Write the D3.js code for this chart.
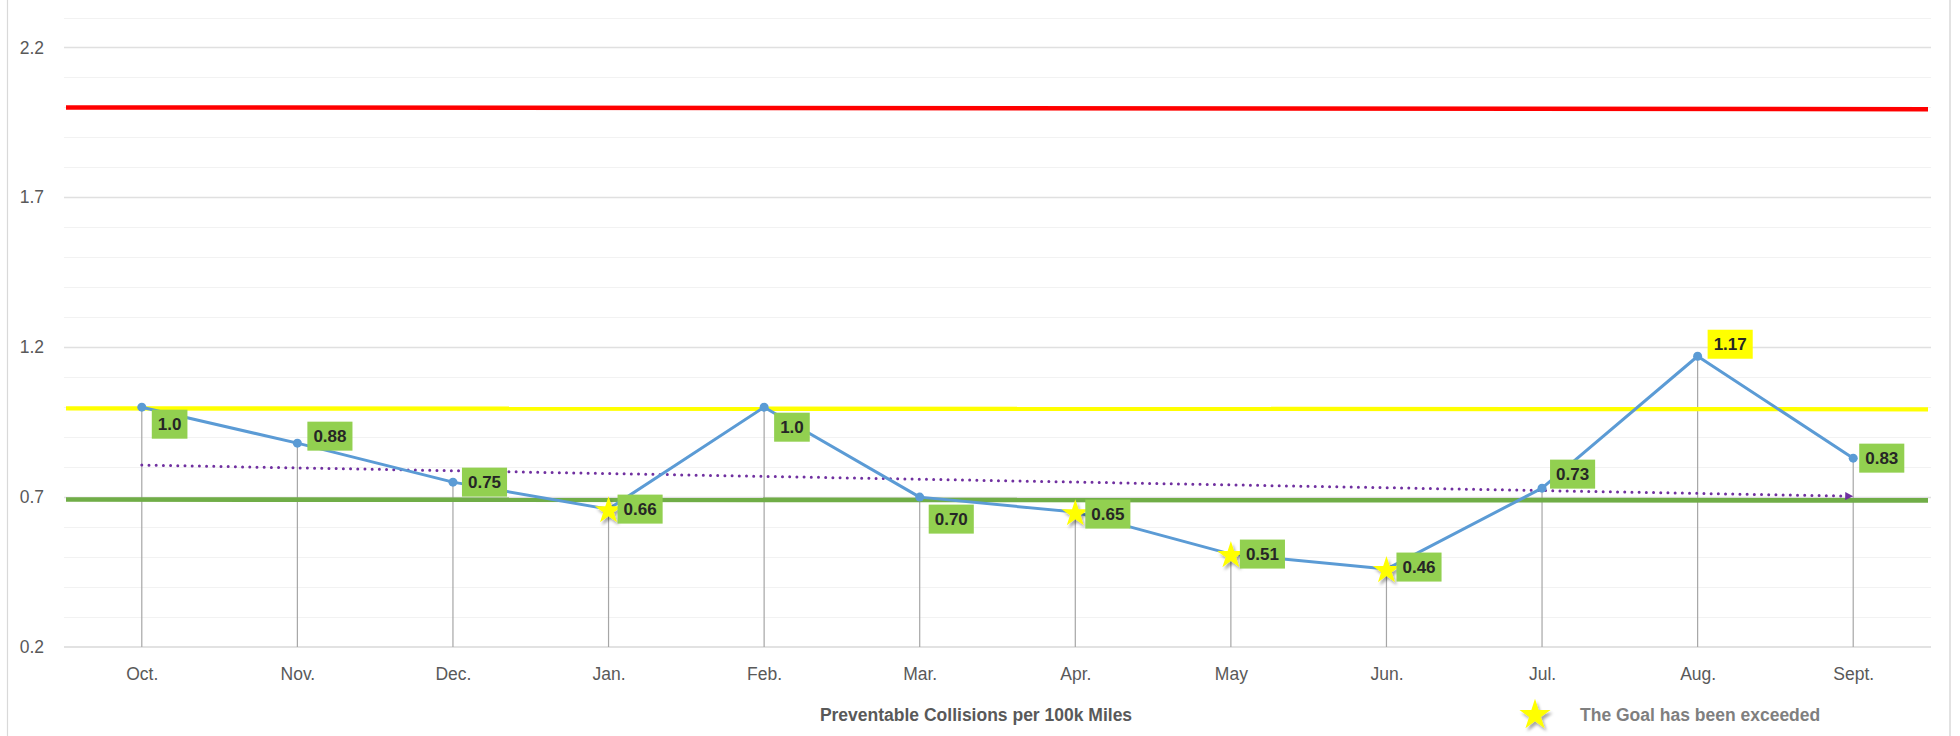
<!DOCTYPE html>
<html>
<head>
<meta charset="utf-8">
<script src="https://cdn.jsdelivr.net/npm/d3@7"></script>
<style>
  html, body { margin: 0; padding: 0; background: #ffffff; }
  svg { display: block; font-family: "Liberation Sans", Arial, sans-serif; }
</style>
</head>
<body>
<svg id="chart" width="1960" height="736"></svg>
<script>
// Monthly preventable collisions per 100k miles
const months = ["Oct.", "Nov.", "Dec.", "Jan.", "Feb.", "Mar.", "Apr.", "May", "Jun.", "Jul.", "Aug.", "Sept."];
const rates = [1.0, 0.88, 0.75, 0.66, 1.0, 0.70, 0.65, 0.51, 0.46, 0.73, 1.17, 0.83];
const labelText = ["1.0", "0.88", "0.75", "0.66", "1.0", "0.70", "0.65", "0.51", "0.46", "0.73", "1.17", "0.83"];
const goalExceeded = ["Jan.", "Apr.", "May", "Jun."];
const highlighted = ["Aug."];

// Reference levels, value at the left end and at the right end
const redLevel = [2.0, 1.994];
const yellowLevel = [0.996, 0.993];
const greenLevel = [0.692, 0.689];
// Trend, value at Oct. and at Sept.
const trendEnds = [0.807, 0.703];

const yTickValues = [0.2, 0.7, 1.2, 1.7, 2.2];
const axisTitle = "Preventable Collisions per 100k Miles";
const legendText = "The Goal has been exceeded";

// Label placement relative to each point: box left offset, box centre offset
const labelOffsets = [
  [10, 17], [10, -7], [9, 0], [9, 0], [10, 20], [9, 22],
  [10, 2], [9, 0], [10, -2], [8, -14], [10, -12], [6, 0]
];

const svg = d3.select("#chart");
const plot = { left: 64, right: 1931, top: 17.5, bottom: 647 };

const x = d3.scalePoint().domain(months).range([plot.left, plot.right]).padding(0.5);
const y = d3.scaleLinear().domain([0.2, 2.3]).range([plot.bottom, plot.top]);

const defs = svg.append("defs");
const shadow = defs.append("filter").attr("id", "starShadow")
  .attr("x", "-50%").attr("y", "-50%").attr("width", "200%").attr("height", "200%");
shadow.append("feDropShadow").attr("dx", 2).attr("dy", 3).attr("stdDeviation", 1.8)
  .attr("flood-color", "#000").attr("flood-opacity", 0.35);
defs.append("marker").attr("id", "trendArrow")
  .attr("viewBox", "0 0 10 10").attr("refX", 10).attr("refY", 5)
  .attr("markerWidth", 10).attr("markerHeight", 8).attr("markerUnits", "userSpaceOnUse")
  .attr("orient", "auto")
  .append("path").attr("d", "M0,0 L10,5 L0,10 Z").attr("fill", "#7030A0");

// Outer frame
svg.append("line").attr("x1", 7.5).attr("x2", 7.5).attr("y1", 0).attr("y2", 736)
  .attr("stroke", "#d9d9d9").attr("stroke-width", 1.2);
svg.append("line").attr("x1", 1950).attr("x2", 1950).attr("y1", 0).attr("y2", 736)
  .attr("stroke", "#d9d9d9").attr("stroke-width", 1.5);

// Minor and major gridlines
const allTicks = y.ticks(21).filter(t => t > 0.25);
const isMajor = t => yTickValues.some(m => Math.abs(m - t) < 1e-6);
svg.append("g").selectAll("line").data(allTicks).join("line")
  .attr("x1", plot.left).attr("x2", plot.right)
  .attr("y1", d => Math.round(y(d)) + 0.5).attr("y2", d => Math.round(y(d)) + 0.5)
  .attr("stroke", d => isMajor(d) ? "#e0e0e0" : "#f2f2f2")
  .attr("stroke-width", d => isMajor(d) ? 1.3 : 1.2);

// Y axis labels
const yAxis = svg.append("g").attr("transform", `translate(${plot.left},0)`)
  .call(d3.axisLeft(y).tickValues(yTickValues).tickSize(0).tickPadding(20).tickFormat(d3.format(".1f")));
yAxis.select(".domain").remove();
yAxis.selectAll("text").attr("font-size", 17.5).attr("fill", "#595959")
  .attr("font-family", "'Liberation Sans', Arial, sans-serif");

// Baseline
svg.append("line").attr("x1", plot.left).attr("x2", plot.right)
  .attr("y1", y(0.2)).attr("y2", y(0.2)).attr("stroke", "#d9d9d9").attr("stroke-width", 1.5);

// X axis labels
const xAxis = svg.append("g").attr("transform", `translate(0,${plot.bottom})`)
  .call(d3.axisBottom(x).tickSize(0).tickPadding(21));
xAxis.select(".domain").remove();
xAxis.selectAll("text").attr("font-size", 17.5).attr("fill", "#595959")
  .attr("font-family", "'Liberation Sans', Arial, sans-serif");

// Drop lines from each point to the baseline
svg.append("g").selectAll("line").data(months).join("line")
  .attr("x1", d => x(d)).attr("x2", d => x(d))
  .attr("y1", (d, i) => y(rates[i])).attr("y2", y(0.2))
  .attr("stroke", "#a6a6a6").attr("stroke-width", 1.2);

// Reference levels
const levelX = [66, 1928];
[[redLevel, "#ff0000", 4.5], [yellowLevel, "#ffff00", 4.3], [greenLevel, "#70ad47", 4.7]]
  .forEach(([lv, color, w]) => {
    svg.append("line")
      .attr("x1", levelX[0]).attr("x2", levelX[1])
      .attr("y1", y(lv[0])).attr("y2", y(lv[1]))
      .attr("stroke", color).attr("stroke-width", w);
  });

// Trend line
svg.append("line")
  .attr("x1", x(months[0])).attr("y1", y(trendEnds[0]))
  .attr("x2", x(months[months.length - 1])).attr("y2", y(trendEnds[1]))
  .attr("stroke", "#7030A0").attr("stroke-width", 3)
  .attr("stroke-linecap", "round").attr("stroke-dasharray", "0 7.2")
  .attr("marker-end", "url(#trendArrow)");

// Rate line
const line = d3.line().x((d, i) => x(months[i])).y(d => y(d));
svg.append("path").datum(rates).attr("d", line)
  .attr("fill", "none").attr("stroke", "#5b9bd5").attr("stroke-width", 3)
  .attr("stroke-linejoin", "round");

// Markers: circles, stars where the goal was exceeded
const pts = months.map((m, i) => ({ m, v: rates[i], i }));
svg.append("g").selectAll("circle").data(pts.filter(p => !goalExceeded.includes(p.m))).join("circle")
  .attr("cx", p => x(p.m)).attr("cy", p => y(p.v)).attr("r", 4.5).attr("fill", "#5b9bd5");

const star = d3.symbol().type(d3.symbolStar);
svg.append("g").selectAll("path").data(pts.filter(p => goalExceeded.includes(p.m))).join("path")
  .attr("d", star.size(235)())
  .attr("transform", p => `translate(${x(p.m)},${y(p.v) + 1.5})`)
  .attr("fill", "#ffff00").attr("filter", "url(#starShadow)");

// Data labels
const labels = svg.append("g").selectAll("g").data(pts).join("g")
  .attr("transform", p => `translate(${x(p.m) + labelOffsets[p.i][0]},${y(p.v) + labelOffsets[p.i][1]})`);
labels.append("rect")
  .attr("fill", p => highlighted.includes(p.m) ? "#ffff00" : "#92d050");
labels.append("text")
  .attr("x", 6).attr("dy", "0.35em")
  .attr("font-size", 17).attr("font-weight", "bold").attr("fill", "#262626")
  .text(p => labelText[p.i]);
labels.each(function () {
  const g = d3.select(this);
  const w = g.select("text").node().getComputedTextLength();
  g.select("rect").attr("x", 0).attr("y", -14.5).attr("width", w + 12).attr("height", 29);
});

// Axis title
svg.append("text").attr("x", 976).attr("y", 715).attr("dy", "0.35em")
  .attr("text-anchor", "middle").attr("font-size", 17.5).attr("font-weight", "bold")
  .attr("fill", "#595959").text(axisTitle);

// Legend
svg.append("path").attr("d", star.size(300)())
  .attr("transform", "translate(1535,715)")
  .attr("fill", "#ffff00").attr("filter", "url(#starShadow)");
svg.append("text").attr("x", 1580).attr("y", 715).attr("dy", "0.35em")
  .attr("font-size", 17.5).attr("font-weight", "bold").attr("fill", "#7f7f7f")
  .text(legendText);
</script>
</body>
</html>
